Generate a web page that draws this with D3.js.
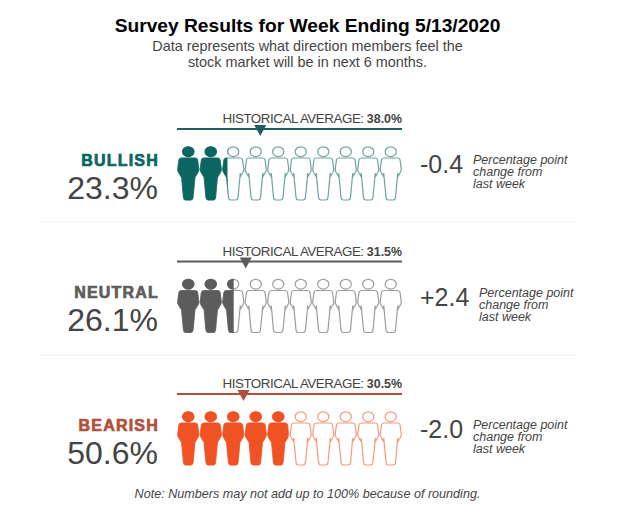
<!DOCTYPE html>
<html>
<head>
<meta charset="utf-8">
<script src="https://cdn.jsdelivr.net/npm/d3@7"></script>
<style>
  body { margin: 0; background: #fff; }
  text { font-family: "Liberation Sans", Arial, sans-serif; }
</style>
</head>
<body>
<svg id="chart" width="622" height="517"></svg>
<script>
const sentiments = ["BULLISH", "NEUTRAL", "BEARISH"];
const currentValues = [23.3, 26.1, 50.6];
const historicalAverages = [38.0, 31.5, 30.5];
const weekChanges = ["-0.4", "+2.4", "-2.0"];
const fillColors = ["#0b6662", "#5c5c5c", "#f15223"];
const labelColors = ["#0b6662", "#5c5c5c", "#b14f3c"];
const lineColors = ["#1e5f5b", "#5c5c5c", "#b14f3c"];
const changeLines = ["Percentage point", "change from", "last week"];
const figureCount = d3.range(10);

const svg = d3.select("#chart");
const x = d3.scaleLinear().domain([0, 100]).range([175.5, 398.5]);
const figureX = d3.scaleBand().domain(figureCount).range([177, 402]);
const rowY = d3.scalePoint().domain(sentiments).range([0, 265]);

// Person outline, centred on x=0, feet at y=54
const bodyPath = "M-6.5,12 L6.5,12 Q9,12 9.3,14 L10.5,23 Q10.8,25 9,27.5 L7.2,30.5 L7,27 L4.8,51 Q4.5,54 2.5,54 L-2.5,54 Q-4.5,54 -4.8,51 L-7,27 L-7.2,30.5 L-9,27.5 Q-10.8,25 -10.5,23 L-9.3,14 Q-9,12 -6.5,12 Z";

// Title block
svg.append("text").attr("x", 307.5).attr("y", 32).attr("text-anchor", "middle")
  .style("font-size", "19.2px").style("font-weight", "bold").attr("fill", "#000")
  .text("Survey Results for Week Ending 5/13/2020");
svg.append("text").attr("x", 307.5).attr("y", 51).attr("text-anchor", "middle")
  .style("font-size", "14.4px").attr("fill", "#444")
  .text("Data represents what direction members feel the");
svg.append("text").attr("x", 307.5).attr("y", 67).attr("text-anchor", "middle")
  .style("font-size", "14.4px").attr("fill", "#444")
  .text("stock market will be in next 6 months.");

// Row separators
[222, 355].forEach(y => {
  svg.append("line").attr("x1", 40).attr("x2", 577).attr("y1", y).attr("y2", y)
    .attr("stroke", "#f0f0f0");
});

sentiments.forEach((name, i) => {
  const g = svg.append("g").attr("transform", `translate(0,${rowY(name)})`);
  const clipId = "clip-" + i;

  g.append("clipPath").attr("id", clipId).append("rect")
    .attr("x", 170).attr("y", 140)
    .attr("width", x(currentValues[i]) - 170).attr("height", 65);

  // historical average
  const avg = g.append("text").attr("x", 402).attr("y", 123).attr("text-anchor", "end")
    .style("font-size", "13.4px").style("letter-spacing", "-0.47px").attr("fill", "#444");
  avg.append("tspan").text("HISTORICAL AVERAGE: ");
  avg.append("tspan").style("font-weight", "bold").style("font-size", "12.4px").style("letter-spacing", "0")
    .text(historicalAverages[i].toFixed(1) + "%");
  g.append("line").attr("x1", 177).attr("x2", 402).attr("y1", 129).attr("y2", 129)
    .attr("stroke", lineColors[i]).attr("stroke-width", 2);
  const mx = x(historicalAverages[i]);
  g.append("path").attr("d", `M${mx - 6},125 L${mx + 6},125 L${mx},136 Z`).attr("fill", lineColors[i]);

  // people
  const people = g.selectAll("g.person").data(figureCount).join("g")
    .attr("class", "person")
    .attr("transform", d => `translate(${figureX(d) + figureX.bandwidth() / 2},146)`);
  people.append("ellipse").attr("cy", 5.7).attr("rx", 5.6).attr("ry", 4.9)
    .attr("fill", "#fff").attr("stroke", fillColors[i]).attr("stroke-opacity", 0.6).attr("stroke-width", 1.2);
  people.append("path").attr("d", bodyPath)
    .attr("fill", "#fff").attr("stroke", fillColors[i]).attr("stroke-opacity", 0.6).attr("stroke-width", 1.2);

  const filled = g.append("g").attr("clip-path", `url(#${clipId})`);
  const solid = filled.selectAll("g").data(figureCount).join("g")
    .attr("transform", d => `translate(${figureX(d) + figureX.bandwidth() / 2},146)`);
  solid.append("ellipse").attr("cy", 5.7).attr("rx", 6.2).attr("ry", 5.5).attr("fill", fillColors[i]);
  solid.append("path").attr("d", bodyPath).attr("fill", fillColors[i]).attr("stroke", fillColors[i]).attr("stroke-width", 0.6);

  // left labels
  g.append("text").attr("x", 159).attr("y", 165.7).attr("text-anchor", "end")
    .style("font-size", "16px").style("font-weight", "bold").style("letter-spacing", "1.2px")
    .attr("fill", labelColors[i]).attr("stroke", labelColors[i]).attr("stroke-width", 0.7)
    .text(name);
  g.append("text").attr("x", 158).attr("y", 198.7).attr("text-anchor", "end")
    .style("font-size", "32px").attr("fill", "#444")
    .text(currentValues[i].toFixed(1) + "%");

  // weekly change
  const noteShift = i === 1 ? 6 : 0;
  g.append("text").attr("x", 420).attr("y", 173.3).attr("text-anchor", "start")
    .style("font-size", "25px").attr("fill", "#444").text(weekChanges[i]);
  changeLines.forEach((t, k) => {
    g.append("text").attr("x", 473 + noteShift).attr("y", 164.4 + k * 12)
      .style("font-size", "12.5px").style("font-style", "italic").attr("fill", "#444").text(t);
  });
});

svg.append("text").attr("x", 307.5).attr("y", 498).attr("text-anchor", "middle")
  .style("font-size", "12.6px").style("font-style", "italic").attr("fill", "#444")
  .text("Note: Numbers may not add up to 100% because of rounding.");
</script>
</body>
</html>
